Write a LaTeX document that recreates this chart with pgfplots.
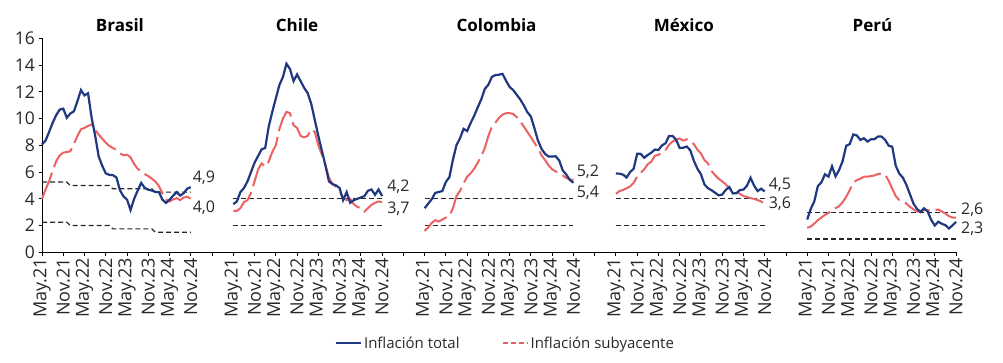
\documentclass[border=0pt]{standalone}
\usepackage{fontspec}
\setmainfont{Open Sans}
\usepackage{pgfplots}
\usepackage{pgfplotstable}
\pgfplotsset{compat=1.18}
\definecolor{cblue}{RGB}{31,56,128}
\definecolor{cred}{RGB}{235,98,100}
\definecolor{ctxt}{RGB}{40,40,40}

\pgfplotstableread{
m brt brc clt clc cot coc mxt mxc pet pec
0 8.06 4.0 3.6 3.1 3.30 1.6 5.89 4.37 2.45 1.84
1 8.35 4.7 3.8 3.1 3.63 1.85 5.88 4.58 3.25 1.92
2 8.99 5.3 4.5 3.3 3.97 2.2 5.81 4.66 3.81 2.15
3 9.68 6.1 4.8 3.75 4.44 2.4 5.59 4.78 4.95 2.4
4 10.25 6.8 5.3 3.9 4.51 2.3 6.00 4.92 5.23 2.6
5 10.67 7.25 6.0 4.45 4.58 2.45 6.24 5.19 5.83 2.8
6 10.74 7.45 6.7 5.3 5.26 2.6 7.37 5.67 5.66 2.95
7 10.06 7.5 7.2 6.2 5.62 2.7 7.36 5.94 6.43 3.15
8 10.38 7.55 7.7 6.65 6.94 3.3 7.07 6.21 5.68 3.3
9 10.54 8.1 7.8 6.4 8.01 4.2 7.28 6.59 6.15 3.45
10 11.30 8.7 9.4 6.8 8.53 4.6 7.45 6.78 6.82 3.75
11 12.13 9.2 10.5 7.5 9.23 5.15 7.68 7.22 7.96 4.15
12 11.73 9.3 11.5 8.0 9.07 5.65 7.65 7.28 8.09 4.65
13 11.89 9.45 12.5 9.2 9.67 5.9 7.99 7.49 8.81 5.2
14 10.07 9.55 13.1 10.0 10.21 6.25 8.15 7.65 8.74 5.4
15 8.73 9.15 14.1 10.5 10.84 6.7 8.70 8.05 8.40 5.5
16 7.17 8.8 13.7 10.4 11.44 7.2 8.70 8.28 8.53 5.65
17 6.47 8.5 12.8 9.5 12.22 7.8 8.41 8.42 8.28 5.65
18 5.90 8.2 13.3 9.3 12.53 8.7 7.80 8.51 8.45 5.7
19 5.79 7.95 12.8 8.7 13.12 9.4 7.82 8.35 8.46 5.75
20 5.77 7.8 12.3 8.6 13.25 9.7 7.91 8.45 8.66 5.85
21 5.60 7.65 11.9 8.7 13.28 10.05 7.62 8.29 8.65 5.9
22 4.65 7.4 11.1 9.2 13.34 10.3 6.85 8.09 8.40 5.8
23 4.18 7.25 9.9 9.0 12.82 10.4 6.25 7.67 7.97 5.35
24 3.94 7.3 8.7 8.0 12.36 10.4 5.84 7.39 7.89 4.75
25 3.16 7.1 7.6 7.3 12.13 10.35 5.06 6.89 6.46 4.2
26 3.99 6.6 6.5 6.5 11.78 10.1 4.79 6.64 5.88 3.9
27 4.61 6.25 5.3 5.6 11.43 9.8 4.64 6.08 5.58 3.8
28 5.19 6.05 5.1 5.1 10.99 9.4 4.45 5.76 5.04 3.65
29 4.82 5.85 5.0 4.9 10.48 9.0 4.26 5.50 4.34 3.4
30 4.68 5.7 4.8 4.6 10.15 8.6 4.32 5.30 3.64 3.2
31 4.62 5.5 3.9 4.1 9.28 8.2 4.66 5.09 3.24 3.05
32 4.51 5.3 4.5 3.9 8.35 7.75 4.88 4.76 3.02 3.05
33 4.50 4.95 3.7 4.0 7.74 7.25 4.40 4.64 3.29 3.15
34 3.93 4.4 3.9 3.6 7.36 6.9 4.42 4.55 3.05 3.15
35 3.69 3.95 4.0 3.4 7.16 6.5 4.65 4.37 2.42 3.1
36 3.93 3.8 4.1 3.3 7.16 6.2 4.69 4.21 2.00 3.15
37 4.23 3.95 4.2 3.05 7.18 6.05 4.98 4.13 2.29 3.2
38 4.50 4.05 4.6 3.3 6.86 5.9 5.57 4.05 2.13 3.05
39 4.24 3.9 4.7 3.55 6.12 5.75 4.99 4.00 2.03 2.9
40 4.42 4.1 4.3 3.7 5.81 5.55 4.58 3.91 1.78 2.7
41 4.76 4.15 4.7 3.8 5.41 5.45 4.76 3.80 2.01 2.6
42 4.87 4.0 4.2 3.75 5.20 5.4 4.55 3.58 2.27 2.6
}\data

\begin{document}
\begin{tikzpicture}
\path[use as bounding box] (-42pt,-109.7pt) rectangle (961pt,252.3pt);
\begin{axis}[
  at={(0pt,0pt)}, anchor=south west,
  scale only axis, width=914pt, height=214pt,
  xmin=0, xmax=258, ymin=0, ymax=16,
  axis x line*=bottom, axis y line*=left,
  axis line style={black, line width=0.9pt},
  every tick/.style={black, line width=0.9pt},
  xtick={0,6,...,258},
  xticklabels={May.21,Nov.21,May.22,Nov.22,May.23,Nov.23,May.24,Nov.24,{},
               May.21,Nov.21,May.22,Nov.22,May.23,Nov.23,May.24,Nov.24,{},
               May.21,Nov.21,May.22,Nov.22,May.23,Nov.23,May.24,Nov.24,{},
               May.21,Nov.21,May.22,Nov.22,May.23,Nov.23,May.24,Nov.24,{},
               May.21,Nov.21,May.22,Nov.22,May.23,Nov.23,May.24,Nov.24},
  x tick label style={rotate=90, anchor=east, font=\fontsize{18}{18}\selectfont, text=ctxt, inner sep=2pt},
  ytick={0,2,...,16},
  y tick label style={font=\fontsize{17.5}{17.5}\selectfont, text=ctxt},
  /pgf/number format/assume math mode=true,
  tick align=outside, major tick length=3.5pt,
  clip=false,
  legend columns=2,
  legend style={at={(0.507,-0.424)}, anchor=center, draw=none, fill=none,
    font=\fontsize{15}{15}\selectfont, text=ctxt,
    /tikz/every even column/.append style={column sep=40pt}},
  legend image code/.code={\draw[#1] (0pt,0pt) -- (25pt,0pt);},
]
\addlegendimage{cblue, line width=2.2pt}
\addlegendentry{Inflación total}
\addlegendimage{cred, line width=2pt, dash pattern=on 5pt off 3pt}
\addlegendentry{Inflación subyacente}

\tikzset{tgt/.style={black!85, line width=1.2pt, dash pattern=on 5pt off 3pt}}
% target bands
\addplot[forget plot, tgt]
  coordinates {(0,5.25) (7,5.25) (8,5.0) (19,5.0) (20,4.75) (31,4.75) (32,4.5) (42,4.5)};
\addplot[forget plot, tgt]
  coordinates {(0,2.25) (7,2.25) (8,2.0) (19,2.0) (20,1.75) (31,1.75) (32,1.5) (42,1.5)};
\addplot[forget plot, tgt] coordinates {(54,4) (96,4)};
\addplot[forget plot, tgt] coordinates {(54,2) (96,2)};
\addplot[forget plot, tgt] coordinates {(108,4) (150,4)};
\addplot[forget plot, tgt] coordinates {(108,2) (150,2)};
\addplot[forget plot, tgt] coordinates {(162,4) (204,4)};
\addplot[forget plot, tgt] coordinates {(162,2) (204,2)};
\addplot[forget plot, tgt] coordinates {(216,3) (258,3)};
\addplot[forget plot, tgt] coordinates {(216,1) (258,1)};

% core (red dashed)
\tikzset{core/.style={cred, line width=2pt, dash pattern=on 28pt off 6pt}}
\addplot[forget plot, core] table[x expr=\thisrow{m}, y=brc] {\data};
\addplot[forget plot, core] table[x expr=\thisrow{m}+54, y=clc] {\data};
\addplot[forget plot, core] table[x expr=\thisrow{m}+108, y=coc] {\data};
\addplot[forget plot, core] table[x expr=\thisrow{m}+162, y=mxc] {\data};
\addplot[forget plot, core] table[x expr=\thisrow{m}+216, y=pec] {\data};

% total (blue)
\addplot[forget plot, cblue, line width=2.2pt] table[x expr=\thisrow{m}, y=brt] {\data};
\addplot[forget plot, cblue, line width=2.2pt] table[x expr=\thisrow{m}+54, y=clt] {\data};
\addplot[forget plot, cblue, line width=2.2pt] table[x expr=\thisrow{m}+108, y=cot] {\data};
\addplot[forget plot, cblue, line width=2.2pt] table[x expr=\thisrow{m}+162, y=mxt] {\data};
\addplot[forget plot, cblue, line width=2.2pt] table[x expr=\thisrow{m}+216, y=pet] {\data};

% titles
\node[font=\bfseries\fontsize{17}{17}\selectfont] at (axis cs:22,17) {Brasil};
\node[font=\bfseries\fontsize{17}{17}\selectfont] at (axis cs:72,17) {Chile};
\node[font=\bfseries\fontsize{17}{17}\selectfont] at (axis cs:128.3,17) {Colombia};
\node[font=\bfseries\fontsize{17}{17}\selectfont] at (axis cs:181.2,17) {México};
\node[font=\bfseries\fontsize{17}{17}\selectfont] at (axis cs:234.4,17) {Perú};

% end labels
\tikzset{vlab/.style={anchor=west, inner sep=0pt, font=\fontsize{16}{16}\selectfont, text=ctxt}}
\node[vlab] at (axis cs:42.5,5.6) {4,9};
\node[vlab] at (axis cs:42.5,3.36) {4,0};
\node[vlab] at (axis cs:97.4,4.9) {4,2};
\node[vlab] at (axis cs:97.4,3.24) {3,7};
\node[vlab] at (axis cs:150.9,6.03) {5,2};
\node[vlab] at (axis cs:150.9,4.46) {5,4};
\node[vlab] at (axis cs:205.1,5.03) {4,5};
\node[vlab] at (axis cs:205.1,3.66) {3,6};
\node[vlab] at (axis cs:259.4,3.16) {2,6};
\node[vlab] at (axis cs:259.4,1.79) {2,3};
\end{axis}
\end{tikzpicture}
\end{document}
